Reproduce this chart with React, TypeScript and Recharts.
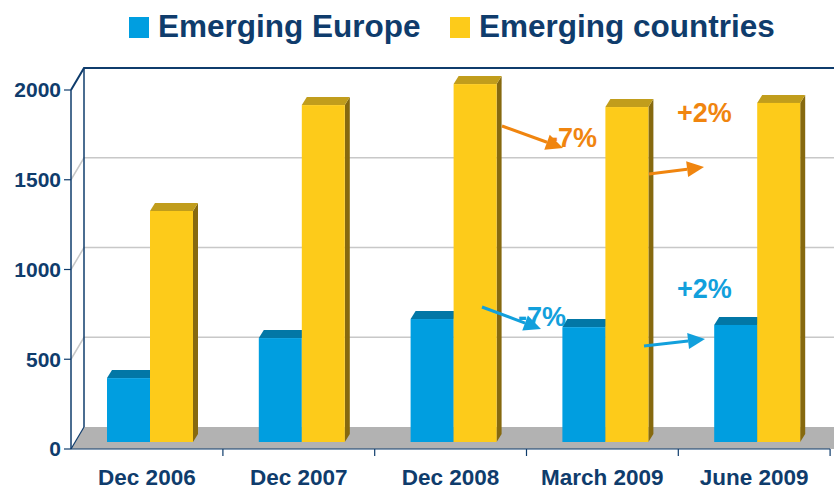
import React from "react";
import { BarChart, Bar, XAxis, YAxis, CartesianGrid, Legend } from "recharts";

const categories = ["Dec 2006", "Dec 2007", "Dec 2008", "March 2009", "June 2009"];
const emergingEurope = [356, 579, 685, 640, 652];
const emergingCountries = [1287, 1877, 1994, 1866, 1889];
const yTicks = [0, 500, 1000, 1500, 2000];

const data = categories.map((name, i) => ({
  name,
  europe: emergingEurope[i],
  countries: emergingCountries[i],
}));

const W = 834;
const H = 490;
const PLOT_TOP = 90;
const PLOT_BOTTOM = 449;
const LEGEND_H = 48;

// 3d look: back wall offset, bar depth offset, bar thickness
const WALL_X = 13;
const WALL_Y = 22;
const BAR_X = 3;
const BAR_Y = 7;
const TOP_X = 5;
const TOP_Y = 8;

const FONT = '"Liberation Sans", Arial, sans-serif';
const NAVY = "#0f3c6c";
const BLUE = "#009ee0";
const YELLOW = "#fdcb1a";
const ORANGE = "#f0850f";
const ANNO_BLUE = "#12a0dc";

const makeBar3D = (front: string, top: string, side: string) => (props: any) => {
  const { x, y, width, height } = props;
  if (width == null || height == null) return null;
  const fx = x + BAR_X;
  const fy = y - BAR_Y;
  const bottom = fy + height;
  const topFace = `M${fx},${fy} L${fx + TOP_X},${fy - TOP_Y} L${fx + width + TOP_X},${fy - TOP_Y} L${fx + width},${fy} Z`;
  const sideFace = `M${fx + width},${fy} L${fx + width + TOP_X},${fy - TOP_Y} L${fx + width + TOP_X},${bottom - TOP_Y} L${fx + width},${bottom} Z`;
  return (
    <g>
      <path d={sideFace} fill={side} />
      <path d={topFace} fill={top} />
      <rect x={fx} y={fy} width={width} height={height} fill={front} />
    </g>
  );
};

const renderGridLine = (props: any) => {
  const { x1, y1 } = props;
  const bx = x1 + WALL_X;
  const by = y1 - WALL_Y;
  if (Math.abs(y1 - PLOT_BOTTOM) < 1) {
    return (
      <g key={`h-${y1}`}>
        <path d={`M${x1},${y1} L${bx},${by} L${W + 2},${by} L${W + 2},${y1} Z`} fill="#b2b2b2" />
        <line x1={x1} y1={y1} x2={bx} y2={by} stroke={NAVY} strokeWidth={1.2} />
      </g>
    );
  }
  if (Math.abs(y1 - PLOT_TOP) < 1) {
    return (
      <g key={`h-${y1}`}>
        <line x1={bx} y1={by} x2={bx} y2={PLOT_BOTTOM - WALL_Y} stroke={NAVY} strokeWidth={1.5} />
        <path d={`M${x1},${y1} L${bx},${by} L${W + 2},${by}`} fill="none" stroke={NAVY} strokeWidth={2} />
      </g>
    );
  }
  return (
    <path
      key={`h-${y1}`}
      d={`M${x1},${y1} L${bx},${by} L${W + 2},${by}`}
      fill="none"
      stroke="#c8c8c8"
      strokeWidth={1.5}
    />
  );
};

const XTick = (props: any) => {
  const { x, payload } = props;
  const half = 76;
  return (
    <g>
      <line x1={x + half} y1={PLOT_BOTTOM} x2={x + half} y2={PLOT_BOTTOM + 7} stroke={NAVY} strokeWidth={1.2} />
      <text x={x} y={PLOT_BOTTOM + 36} textAnchor="middle" fontFamily={FONT} fontWeight={700} fontSize={22.5} fill={NAVY}>
        {payload.value}
      </text>
    </g>
  );
};

const legendX = [129, 450];

const renderLegend = (props: any) => {
  const { payload } = props;
  return (
    <svg width={W} height={LEGEND_H} style={{ display: "block" }}>
      {(payload || []).map((entry: any, i: number) => (
        <g key={entry.value}>
          <rect x={legendX[i]} y={17} width={20} height={21} fill={entry.color} />
          <text x={legendX[i] + 29} y={37} fontFamily={FONT} fontWeight={700} fontSize={31.5} fill={NAVY}>
            {entry.value}
          </text>
        </g>
      ))}
    </svg>
  );
};

const Arrow = ({ x1, y1, x2, y2, color }: { x1: number; y1: number; x2: number; y2: number; color: string }) => {
  const len = 17;
  const hw = 8;
  const a = Math.atan2(y2 - y1, x2 - x1);
  const bx = x2 - len * Math.cos(a);
  const by = y2 - len * Math.sin(a);
  const px = -Math.sin(a) * hw;
  const py = Math.cos(a) * hw;
  return (
    <g>
      <line x1={x1} y1={y1} x2={bx} y2={by} stroke={color} strokeWidth={3} />
      <path d={`M${x2},${y2} L${bx + px},${by + py} L${bx - px},${by - py} Z`} fill={color} />
    </g>
  );
};

export default function App() {
  return (
    <div style={{ position: "absolute", left: 0, top: 0, width: W, height: H, background: "#fff" }}>
      <BarChart
        width={W}
        height={H}
        data={data}
        margin={{ top: PLOT_TOP - LEGEND_H, right: 4, bottom: 0, left: 0 }}
        barCategoryGap={66}
        barGap={0}
      >
        <CartesianGrid vertical={false} horizontal={renderGridLine} />
        <XAxis
          dataKey="name"
          height={H - PLOT_BOTTOM}
          axisLine={{ stroke: NAVY, strokeWidth: 1.2 }}
          tickLine={false}
          tick={<XTick />}
          interval={0}
        />
        <YAxis
          width={71}
          domain={[0, 2000]}
          ticks={yTicks}
          axisLine={{ stroke: NAVY, strokeWidth: 1.5 }}
          tickLine={{ stroke: NAVY, strokeWidth: 1.2 }}
          tickSize={7}
          tickMargin={3}
          tick={{ fontFamily: FONT, fontWeight: 700, fontSize: 21, fill: NAVY }}
        />
        <Legend
          verticalAlign="top"
          align="left"
          wrapperStyle={{ top: 0, left: 0, width: W, height: LEGEND_H }}
          content={renderLegend}
        />
        <Bar
          dataKey="europe"
          name="Emerging Europe"
          fill={BLUE}
          barSize={43}
          shape={makeBar3D(BLUE, "#0277a6", "#006a96")}
          isAnimationActive={false}
        />
        <Bar
          dataKey="countries"
          name="Emerging countries"
          fill={YELLOW}
          barSize={43}
          shape={makeBar3D(YELLOW, "#c19d1c", "#86690f")}
          isAnimationActive={false}
        />
      </BarChart>
      <svg width={W} height={H} style={{ position: "absolute", left: 0, top: 0, pointerEvents: "none" }}>
        <g fontFamily={FONT} fontWeight={700} fontSize={27}>
          <text x={597} y={147} textAnchor="end" fill={ORANGE}>-7%</text>
          <text x={677} y={122} fill={ORANGE}>+2%</text>
          <text x={566} y={326} textAnchor="end" fill={ANNO_BLUE}>-7%</text>
          <text x={677} y={298} fill={ANNO_BLUE}>+2%</text>
        </g>
        <Arrow x1={502} y1={126} x2={563} y2={148} color={ORANGE} />
        <Arrow x1={649} y1={174} x2={704} y2={167} color={ORANGE} />
        <Arrow x1={482} y1={307} x2={541} y2={329} color={ANNO_BLUE} />
        <Arrow x1={644} y1={346} x2={705} y2={339} color={ANNO_BLUE} />
      </svg>
    </div>
  );
}
